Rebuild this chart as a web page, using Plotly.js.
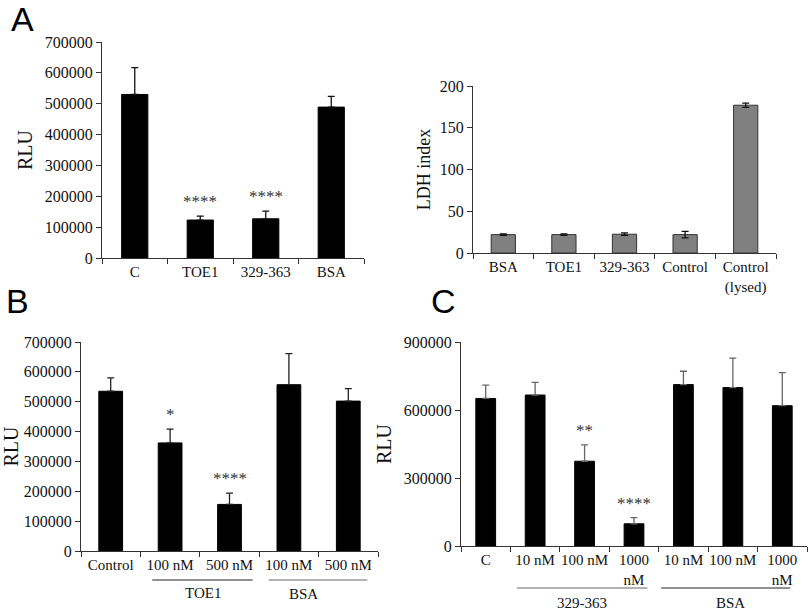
<!DOCTYPE html>
<html><head><meta charset="utf-8">
<script src="https://cdn.plot.ly/plotly-3.0.1.min.js"></script>
<style>html,body{margin:0;padding:0;background:#fff}</style>
</head><body><div id="chart" style="width:810px;height:613px"></div>
<script>
// ---- Data ----
const catA = ['C', 'TOE1', '329-363', 'BSA'];
const rluA = [530000, 123000, 127000, 489000];
const errA = [87000, 13000, 25000, 35000];
const sigA = ['', '****', '****', ''];

const catLDH = ['BSA', 'TOE1', '329-363', 'Control', 'Control<br>(lysed)'];
const ldh = [22, 22, 22.5, 22, 177];
const errLDH = [0.8, 0.8, 1.5, 3.8, 2.5];

const catB = ['Control', '100 nM', '500 nM', '100 nM', '500 nM'];
const rluB = [535000, 362000, 156000, 557000, 502000];
const errB = [45000, 46000, 38000, 104000, 42000];
const sigB = ['', '*', '****', '', ''];
const groupsB = ['TOE1', 'BSA'];

const catC = ['C', '10 nM', '100 nM', '1000<br>nM', '10 nM', '100 nM', '1000<br>nM'];
const rluC = [651000, 666000, 374000, 98000, 712000, 699000, 619000];
const errC = [59000, 56000, 72000, 27000, 59000, 130000, 146000];
const sigC = ['', '', '**', '****', '', '', ''];
const groupsC = ['329-363', 'BSA'];

// ---- Layout helpers ----
const W = 810, H = 613;
const SERIF = 'Liberation Serif, Times New Roman, serif';
const SANS = 'Liberation Sans, Arial, sans-serif';
const fx = p => p / W;
const fy = p => 1 - p / H;
const idx = arr => arr.map((_, i) => i);

function xAxis(cats, l, r) {
  return {
    domain: [fx(l), fx(r)], range: [-0.5, cats.length - 0.5],
    tickmode: 'array', tickvals: idx(cats), ticktext: cats, ticks: '',
    minor: {tickmode: 'linear', tick0: -0.5, dtick: 1, ticks: 'outside', ticklen: 5, tickcolor: '#333', tickwidth: 1, showgrid: false},
    showline: true, linecolor: '#333', linewidth: 1, showgrid: false, zeroline: false,
    tickfont: {family: SERIF, size: 15, color: '#111'}, fixedrange: true
  };
}
function yAxis(t, b, max, dtick, title, tsize, standoff) {
  return {
    domain: [fy(b), fy(t)], range: [0, max], dtick: dtick, tick0: 0, tickformat: 'd',
    ticks: 'outside', ticklen: 5, tickcolor: '#333', showline: true, linecolor: '#333', linewidth: 1,
    showgrid: false, zeroline: false, tickfont: {family: SERIF, size: 16, color: '#111'},
    title: {text: title, font: {family: SERIF, size: tsize, color: '#111'}, standoff: standoff}, fixedrange: true
  };
}
function barTrace(cats, vals, errs, xa, ya, color, ecolor, sym, line) {
  return {
    type: 'bar', x: idx(cats), y: vals, xaxis: xa, yaxis: ya, width: 0.4,
    marker: {color: color, line: {color: line || color, width: 1}},
    error_y: sym ? {type: 'data', array: errs, visible: true, color: ecolor, thickness: 1.3, width: 3.5}
                 : {type: 'data', symmetric: false, array: errs, arrayminus: errs.map(() => 0), visible: true, color: ecolor, thickness: 1.3, width: 3.5},
    hoverinfo: 'skip', showlegend: false
  };
}
function stars(sig, vals, errs, xa, ya) {
  const out = [];
  sig.forEach((s, i) => {
    if (s) out.push({text: s, x: i, y: vals[i] + errs[i], xref: xa, yref: ya, yanchor: 'bottom',
      showarrow: false, yshift: 3, font: {family: SERIF, size: 17, color: '#333'}});
  });
  return out;
}
function letter(t, x, y) {
  return {text: t, x: fx(x), y: fy(y), xref: 'paper', yref: 'paper', xanchor: 'left', yanchor: 'top',
    showarrow: false, font: {family: SANS, size: 34, color: '#000'}};
}
function group(t, x, xa, y) {
  return {text: t, x: x, y: fy(y), xref: xa, yref: 'paper', yanchor: 'middle', showarrow: false,
    font: {family: SERIF, size: 15, color: '#111'}};
}

const data = [
  barTrace(catA, rluA, errA, 'x', 'y', '#000', '#111', false),
  barTrace(catLDH, ldh, errLDH, 'x2', 'y2', '#808080', '#111', true, '#333'),
  barTrace(catB, rluB, errB, 'x3', 'y3', '#000', '#222', false),
  barTrace(catC, rluC, errC, 'x4', 'y4', '#000', '#666', false)
];

const annotations = [].concat(
  stars(sigA, rluA, errA, 'x', 'y'),
  stars(sigB, rluB, errB, 'x3', 'y3'),
  stars(sigC, rluC, errC, 'x4', 'y4'),
  [
    letter('A', 9, -2), letter('B', 4, 280), letter('C', 429, 280),
    group(groupsB[0], 1.56, 'x3', 593), group(groupsB[1], 3.24, 'x3', 594),
    group(groupsC[0], 1.95, 'x4', 603), group(groupsC[1], 4.95, 'x4', 603)
  ]
);

const shapes = [
  {type: 'line', xref: 'x3', yref: 'paper', x0: 0.70, x1: 2.39, y0: fy(580), y1: fy(580), line: {color: '#222', width: 1}},
  {type: 'line', xref: 'x3', yref: 'paper', x0: 2.66, x1: 4.32, y0: fy(580), y1: fy(580), line: {color: '#666', width: 1}},
  {type: 'line', xref: 'x4', yref: 'paper', x0: 0.63, x1: 3.27, y0: fy(588), y1: fy(588), line: {color: '#666', width: 1}},
  {type: 'line', xref: 'x4', yref: 'paper', x0: 3.55, x1: 6.16, y0: fy(588), y1: fy(588), line: {color: '#222', width: 1}}
];

const layout = {
  width: W, height: H, margin: {l: 0, r: 0, t: 0, b: 0},
  paper_bgcolor: '#fff', plot_bgcolor: '#fff', showlegend: false, bargap: 0.6,
  xaxis: Object.assign(xAxis(catA, 102, 364), {anchor: 'y'}),
  yaxis: Object.assign(yAxis(42, 258, 700000, 100000, 'RLU', 20, 6), {anchor: 'x'}),
  xaxis2: Object.assign(xAxis(catLDH, 473, 776), {anchor: 'y2'}),
  yaxis2: Object.assign(yAxis(86, 253, 200, 50, 'LDH index', 18, 4), {anchor: 'x2'}),
  xaxis3: Object.assign(xAxis(catB, 81, 378), {anchor: 'y3'}),
  yaxis3: Object.assign(yAxis(342, 551, 700000, 100000, 'RLU', 20, 5), {anchor: 'x3'}),
  xaxis4: Object.assign(xAxis(catC, 461, 807), {anchor: 'y4'}),
  yaxis4: Object.assign(yAxis(342, 546, 900000, 300000, 'RLU', 20, 6), {anchor: 'x4'}),
  annotations: annotations, shapes: shapes
};

Plotly.newPlot('chart', data, layout, {displayModeBar: false, staticPlot: true});
</script></body></html>
